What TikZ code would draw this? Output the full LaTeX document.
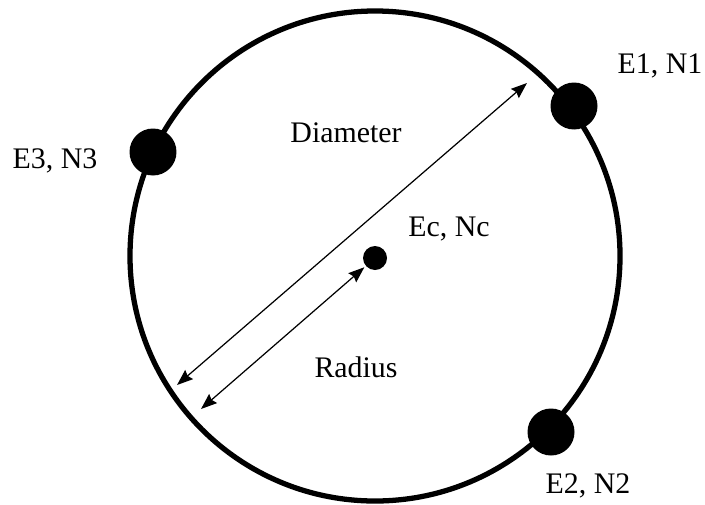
\documentclass[tikz,border=0pt]{standalone}
\usepackage{fontspec}
\setmainfont{Liberation Serif}
\usetikzlibrary{arrows.meta}
\begin{document}
\begin{tikzpicture}[x=0.02cm, y=-0.02cm, font=\fontsize{17}{20}\selectfont,
  station/.style={circle, fill=black, inner sep=0pt, minimum size=0.94cm},
  lbl/.style={anchor=base, inner sep=0pt},
  dim/.style={{Stealth[length=0.32cm, width=0.24cm, inset=0.04cm]}-{Stealth[length=0.32cm, width=0.24cm, inset=0.04cm]}, line width=0.7pt}]
\useasboundingbox (0,0) rectangle (705,504);
% circle through the three stations
\draw[line width=3pt] (375,256) circle[radius=245];
\node[circle, fill=black, inner sep=0pt, minimum size=0.48cm] (cen) at (375,258) {};
\foreach \n/\x/\y in {1/574/106, 2/551/432, 3/153/152}
  \node[station] (e\n) at (\x,\y) {};
% labels
\node[lbl] (l1) at (660,73) {E1, N1};
\node[lbl] (l2) at (588,493) {E2, N2};
\node[lbl] (l3) at (55,168) {E3, N3};
\node[lbl] (lc) at (449,236) {Ec, Nc};
\node[lbl] (ldia) at (346,142) {Diameter};
\node[lbl] (lrad) at (356,377) {Radius};
% dimension arrows
\coordinate (dlow) at (177,385);
\coordinate (dhigh) at (527,83);
\coordinate (rlow) at (201,409);
\draw[dim] (dlow) -- (dhigh);
\draw[dim, shorten >=1pt] (rlow) -- (cen);
\end{tikzpicture}
\end{document}
